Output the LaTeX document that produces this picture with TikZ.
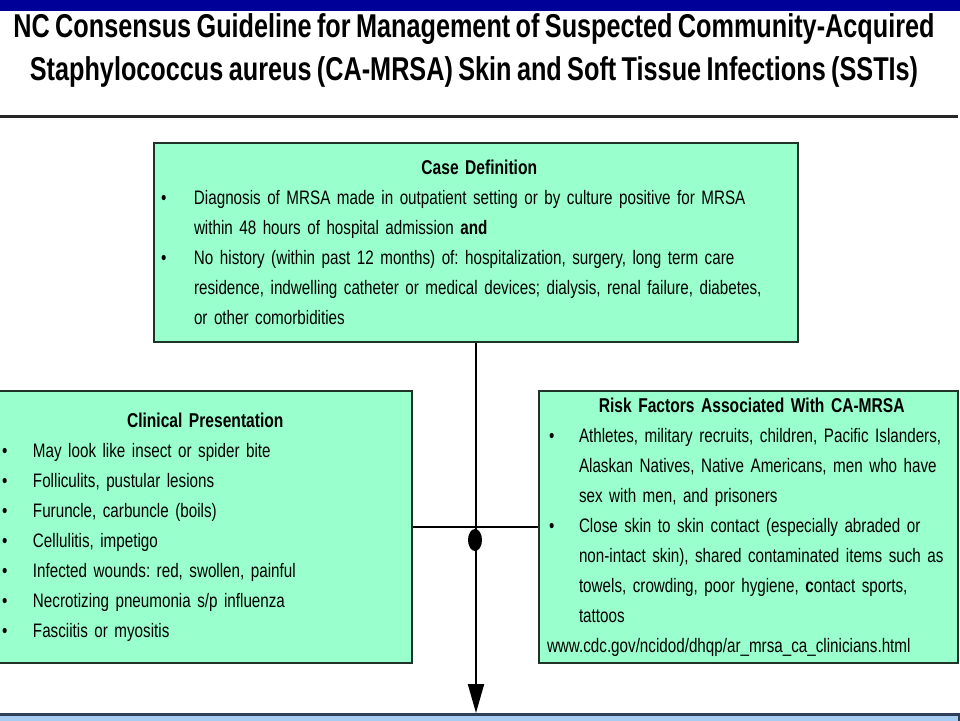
\documentclass[tikz,border=0pt]{standalone}
\usepackage{fontspec}
\setmainfont{Liberation Sans}[FakeStretch=0.78,WordSpace=0.82]
\newfontfamily\titlefont{Liberation Sans}[FakeStretch=0.765,WordSpace=0.765]
\usepackage{tikz}
\usetikzlibrary{arrows.meta}
\usetikzlibrary{shapes.geometric}

\definecolor{mint}{HTML}{99FFCC}
\definecolor{barblue}{HTML}{000099}
\definecolor{paleblue}{HTML}{A6CCF2}
\definecolor{boxline}{HTML}{1F3326}
\definecolor{nextline}{HTML}{2F3F5A}

\frenchspacing
\newlength{\bulpre}
\newlength{\bulwd}
\newcommand{\bulset}[2]{\setlength{\parindent}{0pt}\hyphenpenalty=10000 \exhyphenpenalty=10000
  \setlength{\bulpre}{#1}\setlength{\bulwd}{#2}}
\newcommand{\bul}[1]{\par\hangindent=\dimexpr\bulpre+\bulwd\relax\hangafter=1
  \hspace*{\bulpre}\makebox[\bulwd][l]{\textbullet}#1}
\newcommand{\boxhead}[1]{{\centering\bfseries\fontsize{20}{30}\selectfont #1\par}}

\begin{document}
\begin{tikzpicture}[x=1pt,y=-1pt,
    panel/.style={draw=boxline,line width=2pt,fill=mint,align=left,inner ysep=0pt,
      anchor=north west,font=\fontsize{19.5}{30}\selectfont},
    link/.style={draw=black,line width=2pt},
    headline/.style={anchor=base,font=\titlefont\bfseries\fontsize{33}{40}\selectfont}]

  \useasboundingbox (0,0) rectangle (960,720);
  \fill [white] (0,0) rectangle (960,720);

  % title
  \fill [barblue] (0,0) rectangle (960,11);
  \node [headline] (title_a) at (474,37) {NC Consensus Guideline for Management of Suspected Community-Acquired};
  \node [headline] (title_b) at (474,80) {Staphylococcus aureus (CA-MRSA) Skin and Soft Tissue Infections (SSTIs)};
  \draw [line width=3pt,black!85] (0,116) -- (958,116);

  \node [panel,text width=630pt,inner xsep=7pt,minimum height=199pt] (case_def) at (153,142) {
    \bulset{0pt}{33pt}
    \boxhead{Case Definition}
    \bul{Diagnosis of MRSA made in outpatient setting or by culture positive for MRSA\newline
      within 48 hours of hospital admission \textbf{and}}
    \bul{No history (within past 12 months) of: hospitalization, surgery, long term care\newline
      residence, indwelling catheter or medical devices; dialysis, renal failure, diabetes,\newline
      or other comorbidities}\par
  };

  \node [panel,text width=400pt,inner xsep=10pt,minimum height=272pt] (clin_pres) at (-9,390) {
    \bulset{0pt}{31pt}
    \boxhead{Clinical Presentation}
    \bul{May look like insect or spider bite}
    \bul{Folliculits, pustular lesions}
    \bul{Furuncle, carbuncle (boils)}
    \bul{Cellulitis, impetigo}
    \bul{Infected wounds: red, swollen, painful}
    \bul{Necrotizing pneumonia s/p influenza}
    \bul{Fasciitis or myositis}\par
  };

  \node [panel,text width=415pt,inner xsep=2pt,minimum height=272pt] (risk_fac) at (538,390) {
    \bulset{8pt}{30pt}
    \boxhead{Risk Factors Associated With CA-MRSA}
    \bul{Athletes, military recruits, children, Pacific Islanders,\newline
      Alaskan Natives, Native Americans, men who have\newline
      sex with men, and prisoners}
    \bul{Close skin to skin contact (especially abraded or\newline
      non-intact skin), shared contaminated items such as\newline
      towels, crowding, poor hygiene, \textbf{c}ontact sports,\newline
      tattoos}
    \par\hspace*{6pt}www.cdc.gov/ncidod/dhqp/ar\_mrsa\_ca\_clinicians.html\par
  };

  \node [draw=nextline,line width=3pt,fill=paleblue,anchor=north west,
    minimum width=968pt,minimum height=60pt] (next_box) at (-10,713) {};

  \coordinate (mid_link) at (475,527);
  \draw [link] (clin_pres.east |- mid_link) -- (risk_fac.west |- mid_link);
  \draw [link,-{Triangle[width=16pt,length=29pt]}] (case_def.south) -- (case_def.south |- next_box.north);

  \node [ellipse,fill=black,minimum width=14pt,minimum height=22pt,inner sep=0pt] (hub) at (475,540) {};

\end{tikzpicture}
\end{document}
